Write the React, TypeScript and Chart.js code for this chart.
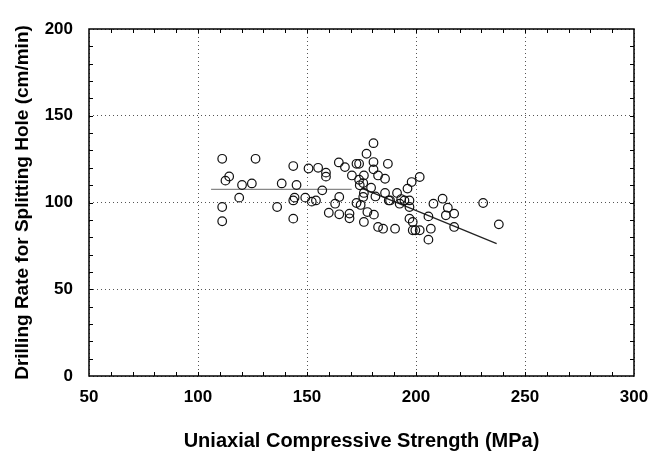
import React, { useEffect, useRef } from "react";
import { Chart, registerables } from "chart.js";

Chart.register(...registerables);

const ucsValues: number[] = [
  111.1, 112.6, 114.3, 111.1, 111.1, 120.2, 118.9, 124.7, 126.4, 136.3,
  138.4, 143.7, 145.2, 144.3, 143.7, 143.7, 149.2, 150.7, 152.2, 154.1,
  155.1, 157.0, 158.7, 158.7, 160.0, 162.9, 164.6, 164.8, 164.8, 167.4,
  169.5, 169.5, 170.6, 172.7, 173.9, 172.7, 173.9, 174.2, 174.6, 175.8,
  176.1, 175.8, 176.1, 176.1, 177.3, 177.7, 179.4, 180.5, 180.5, 180.5,
  180.7, 181.4, 182.6, 182.6, 184.9, 185.8, 187.1, 187.5, 188.1, 185.8,
  190.4, 191.3, 192.5, 193.2, 194.7, 196.1, 198.0, 197.0, 197.0, 197.0,
  198.5, 198.5, 199.7, 201.7, 201.7, 205.7, 205.7, 206.8, 208.0, 212.2,
  213.7, 214.6, 217.5, 217.5, 230.8, 238.0,
];
const rateValues: number[] = [
  125.2, 112.6, 115.0, 97.4, 89.2, 110.1, 102.8, 111.0, 125.2, 97.4,
  111.0, 121.0, 110.1, 102.8, 101.2, 90.7, 102.8, 119.6, 100.5, 101.2,
  120.0, 107.0, 117.2, 114.9, 94.1, 99.3, 123.1, 103.2, 93.2, 120.4,
  93.6, 90.9, 115.6, 122.3, 122.3, 99.7, 113.1, 109.9, 98.6, 111.2,
  115.6, 103.2, 105.5, 88.8, 128.1, 94.5, 108.5, 134.2, 123.3, 119.1,
  93.0, 103.5, 115.6, 85.9, 84.9, 113.7, 122.3, 101.2, 101.2, 105.5,
  84.9, 105.5, 99.3, 102.0, 101.2, 108.0, 111.8, 101.2, 97.4, 90.7,
  88.8, 84.0, 84.0, 114.7, 84.0, 92.0, 78.6, 84.9, 99.3, 102.2,
  92.6, 97.0, 93.6, 85.9, 99.7, 87.4,
];

const flatLineX: number[] = [106, 170.5];
const flatLineY: number[] = [107.6, 107.6];
const trendLineX: number[] = [175, 237];
const trendLineY: number[] = [108.3, 76.3];

const xTicks: number[] = [50, 100, 150, 200, 250, 300];
const yTicks: number[] = [0, 50, 100, 150, 200];

const xTitle = "Uniaxial Compressive Strength (MPa)";
const yTitle = "Drilling Rate for Splitting Hole (cm/min)";

const FONT = "'Liberation Sans', Arial, sans-serif";

const framePlugin = {
  id: "frameTicks",
  afterDraw(chart: any) {
    const { ctx, chartArea } = chart;
    const xs = chart.scales.x;
    const ys = chart.scales.y;
    ctx.save();
    ctx.strokeStyle = "#000";
    ctx.lineWidth = 1;
    const L = 4;
    for (let v = xs.min + 10; v < xs.max; v += 10) {
      const px = Math.round(xs.getPixelForValue(v)) + 0.5;
      ctx.beginPath();
      ctx.moveTo(px, chartArea.bottom);
      ctx.lineTo(px, chartArea.bottom - L);
      ctx.moveTo(px, chartArea.top);
      ctx.lineTo(px, chartArea.top + L);
      ctx.stroke();
    }
    for (let v = ys.min + 10; v < ys.max; v += 10) {
      const py = Math.round(ys.getPixelForValue(v)) + 0.5;
      ctx.beginPath();
      ctx.moveTo(chartArea.left, py);
      ctx.lineTo(chartArea.left + L, py);
      ctx.moveTo(chartArea.right, py);
      ctx.lineTo(chartArea.right - L, py);
      ctx.stroke();
    }
    ctx.lineWidth = 1.5;
    ctx.strokeRect(
      chartArea.left,
      chartArea.top,
      chartArea.right - chartArea.left,
      chartArea.bottom - chartArea.top
    );
    ctx.restore();
  },
};

export default function App() {
  const ref = useRef<HTMLCanvasElement | null>(null);
  useEffect(() => {
    document.body.style.margin = "0";
    if (!ref.current) return;
    const chart = new Chart(ref.current, {
      type: "scatter",
      data: {
        datasets: [
          {
            label: "data",
            data: ucsValues.map((x, i) => ({ x, y: rateValues[i] })),
            pointStyle: "circle",
            pointRadius: 4.3,
            pointBorderWidth: 1.2,
            pointBorderColor: "#111",
            pointBackgroundColor: "rgba(0,0,0,0)",
            showLine: false,
          },
          {
            label: "flat",
            data: flatLineX.map((x, i) => ({ x, y: flatLineY[i] })),
            showLine: true,
            borderColor: "#888",
            borderWidth: 1.3,
            pointRadius: 0,
          },
          {
            label: "trend",
            data: trendLineX.map((x, i) => ({ x, y: trendLineY[i] })),
            showLine: true,
            borderColor: "#222",
            borderWidth: 1.2,
            pointRadius: 0,
          },
        ],
      },
      options: {
        animation: false,
        responsive: false,
        devicePixelRatio: 1,
        layout: { padding: { top: 29, right: 15, left: 0, bottom: 0 } },
        plugins: { legend: { display: false }, tooltip: { enabled: false } },
        scales: {
          x: {
            type: "linear",
            min: 50,
            max: 300,
            afterBuildTicks: (s: any) => {
              s.ticks = xTicks.map((v) => ({ value: v }));
            },
            afterFit: (s: any) => {
              s.height = 78;
              s.paddingRight = 0;
              s.paddingLeft = 0;
            },
            border: { display: false, dash: [1, 3] },
            grid: {
              color: "#555",
              lineWidth: 1,
              drawTicks: false,
            },
            ticks: {
              color: "#000",
              padding: 11,
              font: { family: FONT, size: 17, weight: "bold" },
              maxRotation: 0,
            },
            title: {
              display: true,
              text: xTitle,
              color: "#000",
              font: { family: FONT, size: 20, weight: "bold" },
              padding: { top: 0, bottom: 1 },
            },
          },
          y: {
            type: "linear",
            min: 0,
            max: 200,
            afterBuildTicks: (s: any) => {
              s.ticks = yTicks.map((v) => ({ value: v }));
            },
            afterFit: (s: any) => {
              s.width = 89;
            },
            border: { display: false, dash: [1, 3] },
            grid: {
              color: "#555",
              lineWidth: 1,
              drawTicks: false,
            },
            ticks: {
              color: "#000",
              padding: 16,
              font: { family: FONT, size: 17, weight: "bold" },
            },
            title: {
              display: true,
              text: yTitle,
              color: "#000",
              font: { family: FONT, size: 19, weight: "bold" },
              padding: { top: 11, bottom: 0 },
            },
          },
        },
      },
      plugins: [framePlugin],
    } as any);
    return () => chart.destroy();
  }, []);
  return <canvas ref={ref} width={649} height={454} />;
}
